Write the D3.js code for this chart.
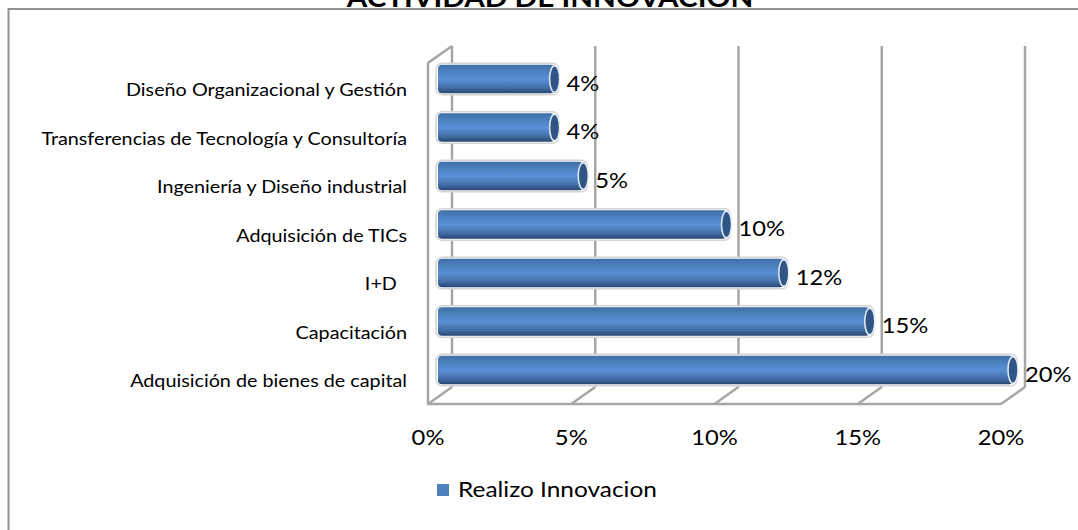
<!DOCTYPE html>
<html>
<head>
<meta charset="utf-8">
<script src="https://cdnjs.cloudflare.com/ajax/libs/d3/7.8.5/d3.min.js"></script>
<style>
  html, body { margin: 0; padding: 0; background: #fff; overflow: hidden; }
  text { font-family: Lato, "Open Sans", sans-serif; fill: #000; white-space: pre; }
</style>
</head>
<body>
<svg id="chart" width="1078" height="530"></svg>
<script>
// Data
const categories = [
  'Diseño Organizacional y Gestión',
  'Transferencias de Tecnología y Consultoría',
  'Ingeniería y Diseño industrial',
  'Adquisición de TICs',
  'I+D  ',
  'Capacitación',
  'Adquisición de bienes de capital'
];
const values = [4, 4, 5, 10, 12, 15, 20];
const xTicks = [0, 5, 10, 15, 20];
const seriesName = 'Realizo Innovacion';
const chartTitle = 'ACTIVIDAD DE INNOVACION';

const svg = d3.select('#chart');
const defs = svg.append('defs');

// The source picture is a little wider than tall, so its text is stretched too
const stretch = (px, py, sx) => `translate(${px},${py}) scale(${sx},1)`;

// Frame runs off the right and bottom of the picture
svg.append('rect')
  .attr('x', 8.5).attr('y', 9).attr('width', 1100).attr('height', 560)
  .attr('fill', '#fff').attr('stroke', '#929292').attr('stroke-width', 2);

svg.append('text')
  .attr('transform', stretch(550, 7, 1.12))
  .attr('text-anchor', 'middle')
  .attr('font-size', 26.5).attr('font-weight', 700)
  .text(chartTitle);

// Front plane of the 3D box, back wall is offset by depth
const depthX = 24, depthY = -17;
const x = d3.scaleLinear().domain([0, 20]).range([428, 1001]);
const y = d3.scaleBand().domain(categories).range([55, 394]).paddingInner(0.41).paddingOuter(0.2);

// Walls and gridlines
const wallColor = '#a6a6a6';
const wall = svg.append('g').attr('fill', 'none').attr('stroke', wallColor).attr('stroke-width', 2.5);
const wallTop = 63, wallFloor = 404;

wall.selectAll('line.grid')
  .data(xTicks)
  .join('line')
  .attr('class', 'grid')
  .attr('x1', d => x(d) + depthX).attr('x2', d => x(d) + depthX)
  .attr('y1', wallTop + depthY).attr('y2', wallFloor + depthY);

wall.selectAll('line.floor')
  .data(xTicks)
  .join('line')
  .attr('class', 'floor')
  .attr('x1', d => x(d)).attr('x2', d => x(d) + depthX)
  .attr('y1', wallFloor).attr('y2', wallFloor + depthY);

wall.append('path')
  .attr('d', `M${x(0) + depthX},${wallTop + depthY}L${x(0)},${wallTop}V${wallFloor}H${x(20)}`);

// Cylinder shading
const grad = defs.append('linearGradient')
  .attr('id', 'barFill').attr('x1', 0).attr('x2', 0).attr('y1', 0).attr('y2', 1);
[[0, '#3d6ea5'], [0.12, '#4678b3'], [0.5, '#5b90d6'], [0.8, '#436fa8'], [1, '#27466f']]
  .forEach(([o, c]) => grad.append('stop').attr('offset', o).attr('stop-color', c));

const barStart = 12, capRx = 5;
const bars = svg.append('g').selectAll('g')
  .data(categories.map((c, i) => ({ c, v: values[i] })))
  .join('g');

// light outline behind the bar
bars.append('rect')
  .attr('x', x(0) + barStart - 4)
  .attr('y', d => y(d.c) - 1.5)
  .attr('width', d => x(d.v) - x(0) + 8)
  .attr('height', y.bandwidth() + 3)
  .attr('rx', 6)
  .attr('fill', '#fff').attr('stroke', '#d4d4d4').attr('stroke-width', 1.5);

bars.append('rect')
  .attr('x', x(0) + barStart - 2)
  .attr('y', d => y(d.c))
  .attr('width', d => x(d.v) - x(0) + 2)
  .attr('height', y.bandwidth())
  .attr('rx', 4)
  .attr('fill', 'url(#barFill)');

bars.append('ellipse')
  .attr('cx', d => x(d.v) + barStart)
  .attr('cy', d => y(d.c) + y.bandwidth() / 2)
  .attr('rx', capRx)
  .attr('ry', y.bandwidth() / 2 - 1)
  .attr('fill', '#2f5587').attr('stroke', '#e4ecf5').attr('stroke-width', 1.5);

// Value labels
bars.append('text')
  .attr('transform', d => stretch(x(d.v) + barStart + 12, y(d.c) + y.bandwidth() / 2 + 4, 1.08))
  .attr('dy', '0.35em')
  .attr('font-size', 22)
  .text(d => d.v + '%');

// Category labels
svg.append('g').selectAll('text')
  .data(categories)
  .join('text')
  .attr('transform', d => stretch(407, y(d) + y.bandwidth() / 2 + 11, 1.13))
  .attr('dy', '0.35em')
  .attr('text-anchor', 'end')
  .attr('font-size', 17.5)
  .text(d => d);

// X axis tick labels
svg.append('g').selectAll('text')
  .data(xTicks)
  .join('text')
  .attr('transform', d => stretch(x(d), 445, 1.08))
  .attr('text-anchor', 'middle')
  .attr('font-size', 22)
  .text(d => d + '%');

// Legend
svg.append('rect')
  .attr('x', 437).attr('y', 484).attr('width', 12).attr('height', 12)
  .attr('fill', '#4f81bd');
svg.append('text')
  .attr('transform', stretch(458, 497, 1.11))
  .attr('font-size', 22)
  .text(seriesName);
</script>
</body>
</html>
